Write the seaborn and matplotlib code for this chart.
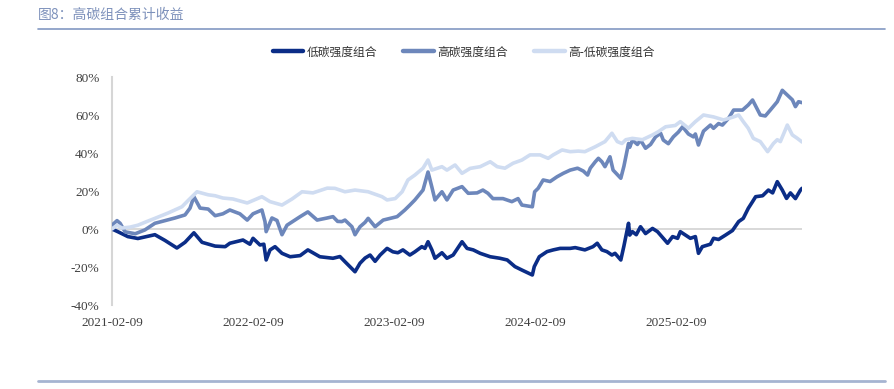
import pandas as pd
import matplotlib
matplotlib.use("Agg")
import matplotlib.pyplot as plt
from matplotlib.lines import Line2D
import seaborn as sns

# ---------- data (% cumulative return) ----------
series_names = ["低碳强度组合", "高碳强度组合", "高-低碳强度组合"]
series_colors = ["#0b2d87", "#6d87bb", "#cfdcf1"]

low_dates = [
    "2021-02-09", "2021-02-25", "2021-03-22", "2021-04-17", "2021-05-31", "2021-06-26",
    "2021-07-27", "2021-08-17", "2021-09-09", "2021-09-30", "2021-11-03", "2021-11-29",
    "2021-12-11", "2022-01-14", "2022-02-01", "2022-02-09", "2022-02-27", "2022-03-09",
    "2022-03-15", "2022-03-25", "2022-04-07", "2022-04-25", "2022-05-16", "2022-06-11",
    "2022-07-01", "2022-08-01", "2022-09-04", "2022-09-22", "2022-10-05", "2022-10-31",
    "2022-11-13", "2022-11-26", "2022-12-09", "2022-12-22", "2023-01-04", "2023-01-22",
    "2023-02-06", "2023-02-19", "2023-03-04", "2023-03-22", "2023-04-04", "2023-04-22",
    "2023-04-30", "2023-05-08", "2023-05-18", "2023-05-26", "2023-06-13", "2023-06-26",
    "2023-07-12", "2023-08-04", "2023-08-17", "2023-09-02", "2023-09-20", "2023-10-16",
    "2023-11-10", "2023-11-29", "2023-12-19", "2024-01-06", "2024-02-02", "2024-02-07",
    "2024-02-20", "2024-03-11", "2024-03-27", "2024-04-14", "2024-05-10", "2024-05-23",
    "2024-06-17", "2024-07-08", "2024-07-19", "2024-07-31", "2024-08-13", "2024-08-26",
    "2024-09-03", "2024-09-18", "2024-09-26", "2024-10-08", "2024-10-11", "2024-10-18",
    "2024-10-28", "2024-11-08", "2024-11-21", "2024-12-09", "2024-12-22", "2025-01-06",
    "2025-01-17", "2025-01-30", "2025-02-12", "2025-02-19", "2025-03-17", "2025-03-30",
    "2025-04-07", "2025-04-17", "2025-05-08", "2025-05-16", "2025-05-29", "2025-06-16",
    "2025-07-04", "2025-07-20", "2025-08-01", "2025-08-14", "2025-08-25", "2025-09-02",
    "2025-09-20", "2025-10-05", "2025-10-16", "2025-10-28", "2025-11-10", "2025-11-21",
    "2025-12-01", "2025-12-14", "2025-12-27", "2025-12-31",
]
low_values = [
    0, -1.5, -4, -5, -3, -6,
    -10, -7, -2, -7, -9, -9.3,
    -7.5, -5.8, -8, -4.9, -8.4, -8,
    -16.3, -11, -9.3, -12.8, -14.6, -14,
    -11, -14.6, -15.4, -14.5, -17.2, -22.5,
    -18, -15.3, -13.7, -17, -13.7, -10.2,
    -12, -12.5, -11, -13.7, -12, -9.3,
    -10.2, -6.7, -11, -15.4, -12.5, -15.4,
    -13.7, -6.7, -10.2, -11, -12.8, -14.6,
    -15.4, -16.3, -19.8, -21.6, -24.2, -19.8,
    -14.6, -11.9, -11, -10.2, -10.2, -9.8,
    -11, -9.3, -7.5, -11, -11.9, -13.7,
    -12.8, -16.3, -9, 3, -3.2, -1.4,
    -3, 1.2, -2.4, 0.3, -1.4, -4.9,
    -7.5, -4, -4.9, -1.4, -4.9, -4,
    -12.8, -9.3, -8, -4.9, -5.5, -3.2,
    -0.8, 3.9, 5.6, 10.9, 14.4, 17,
    17.5, 20.5, 19, 24.9, 20.5, 16.1,
    19, 16, 20.5, 21.4,
]

high_dates = [
    "2021-02-09", "2021-02-22", "2021-03-02", "2021-03-15", "2021-04-10", "2021-05-05",
    "2021-05-31", "2021-06-26", "2021-07-22", "2021-08-17", "2021-08-30", "2021-09-09",
    "2021-09-25", "2021-10-16", "2021-11-03", "2021-11-23", "2021-12-11", "2022-01-06",
    "2022-01-25", "2022-02-09", "2022-03-04", "2022-03-12", "2022-03-15", "2022-03-30",
    "2022-04-12", "2022-04-25", "2022-05-08", "2022-06-11", "2022-07-01", "2022-07-25",
    "2022-08-20", "2022-09-04", "2022-09-16", "2022-09-27", "2022-10-05", "2022-10-23",
    "2022-10-31", "2022-11-13", "2022-11-26", "2022-12-04", "2022-12-22", "2023-01-12",
    "2023-01-30", "2023-02-17", "2023-03-09", "2023-03-22", "2023-04-04", "2023-04-25",
    "2023-05-08", "2023-05-18", "2023-05-26", "2023-06-13", "2023-06-26", "2023-07-12",
    "2023-08-04", "2023-08-20", "2023-09-12", "2023-09-27", "2023-10-10", "2023-10-23",
    "2023-11-18", "2023-12-11", "2023-12-27", "2024-01-06", "2024-02-02", "2024-02-08",
    "2024-02-17", "2024-03-01", "2024-03-19", "2024-04-06", "2024-04-22", "2024-05-10",
    "2024-05-29", "2024-06-13", "2024-06-24", "2024-07-01", "2024-07-14", "2024-07-22",
    "2024-07-31", "2024-08-08", "2024-08-21", "2024-08-29", "2024-09-18", "2024-09-26",
    "2024-10-08", "2024-10-11", "2024-10-18", "2024-10-31", "2024-11-08", "2024-11-21",
    "2024-12-04", "2024-12-17", "2024-12-30", "2025-01-06", "2025-01-19", "2025-02-01",
    "2025-02-14", "2025-02-25", "2025-03-04", "2025-03-12", "2025-03-25", "2025-03-30",
    "2025-04-07", "2025-04-20", "2025-05-08", "2025-05-16", "2025-05-29", "2025-06-08",
    "2025-06-24", "2025-07-07", "2025-07-30", "2025-08-14", "2025-08-25", "2025-09-14",
    "2025-09-27", "2025-10-10", "2025-10-28", "2025-11-10", "2025-11-23", "2025-12-06",
    "2025-12-14", "2025-12-22", "2025-12-31",
]
high_values = [
    2, 4.4, 3, -1.5, -2.5, -0.5,
    3, 4.4, 5.8, 7.4, 11, 17,
    11, 10.5, 7, 8, 10, 8,
    4.7, 8, 10, 3.9, -1.4, 5.8,
    4.5, -3, 2, 6.5, 9, 4.7,
    5.8, 6.5, 4, 3.9, 4.7, 1.2,
    -3, 1.2, 3.5, 5.6, 1.2, 4.7,
    5.6, 6.5, 10, 12.6, 15.3, 20.5,
    30, 22, 15.3, 19.6, 15.3, 20.5,
    22.3, 18.8, 19, 20.5, 18.8, 16,
    16, 14.4, 16, 12.6, 11.7, 19.6,
    21.4, 25.8, 25, 27.5, 29.3, 31,
    32, 30.5, 28.4, 32, 35.4, 37.2,
    35.4, 32.8, 38, 31, 26.7, 33,
    45, 43, 46.8, 44.5, 46.8, 42.5,
    44.5, 48.5, 50.4, 46.8, 44.9, 48.5,
    51, 53.8, 52, 50, 48.5, 50,
    44.2, 51.5, 54.7, 53, 55.5, 54.7,
    58.3, 62.6, 62.6, 65.3, 67.9, 60,
    59.5, 62.6, 67, 73, 70.5, 68,
    64.4, 67, 66.5,
]

spread_dates = [
    "2021-02-09", "2021-02-22", "2021-03-07", "2021-03-28", "2021-04-17", "2021-05-11",
    "2021-05-31", "2021-07-04", "2021-08-09", "2021-08-25", "2021-09-17", "2021-10-16",
    "2021-11-03", "2021-11-23", "2021-12-19", "2022-01-25", "2022-03-04", "2022-03-25",
    "2022-04-25", "2022-05-21", "2022-06-16", "2022-07-14", "2022-08-20", "2022-09-09",
    "2022-10-05", "2022-10-31", "2022-12-04", "2023-01-09", "2023-01-22", "2023-02-12",
    "2023-03-02", "2023-03-17", "2023-04-04", "2023-04-25", "2023-05-08", "2023-05-18",
    "2023-06-13", "2023-06-26", "2023-07-17", "2023-08-04", "2023-08-25", "2023-09-20",
    "2023-10-16", "2023-11-03", "2023-11-23", "2023-12-14", "2024-01-06", "2024-01-27",
    "2024-02-22", "2024-03-14", "2024-03-27", "2024-04-19", "2024-05-10", "2024-05-31",
    "2024-06-17", "2024-07-14", "2024-08-08", "2024-08-26", "2024-09-09", "2024-09-21",
    "2024-10-01", "2024-10-18", "2024-11-13", "2024-12-09", "2024-12-24", "2025-01-12",
    "2025-02-06", "2025-02-19", "2025-03-12", "2025-03-30", "2025-04-20", "2025-05-16",
    "2025-06-11", "2025-07-07", "2025-07-20", "2025-08-01", "2025-08-14", "2025-08-27",
    "2025-09-14", "2025-10-03", "2025-10-18", "2025-10-28", "2025-11-05", "2025-11-23",
    "2025-12-06", "2025-12-19", "2025-12-31",
]
spread_values = [
    0, 2, 0.5, 1, 2, 4,
    5.6, 8.4, 11.7, 15, 19.6, 18,
    17.5, 16.3, 15.8, 13.7, 17, 14.4,
    12.6, 15.8, 19.6, 19, 21.5, 21.4,
    19.6, 20.5, 19.6, 17, 15.3, 16,
    19.6, 25.8, 28.4, 32, 36.3, 31,
    32.8, 31, 33.7, 29.3, 31.9, 32.8,
    35.4, 32.8, 32, 34.6, 36.3, 39,
    39, 37.2, 39, 41.6, 40.7, 41,
    40.7, 43.3, 46, 50.4, 46, 45,
    47, 47.7, 47, 49.5, 51.2, 53.8,
    54.5, 56.5, 53, 56.5, 60, 59,
    57.4, 59, 60, 56.5, 53, 47.7,
    46, 40.7, 45, 47, 46, 54.7,
    49.5, 47.7, 45.8,
]

x_tick_labels = ["2021-02-09", "2022-02-09", "2023-02-09", "2024-02-09", "2025-02-09"]
y_ticks = [-40, -20, 0, 20, 40, 60, 80]

df = pd.concat([
    pd.DataFrame({"date": pd.to_datetime(low_dates), "value": low_values, "series": series_names[0]}),
    pd.DataFrame({"date": pd.to_datetime(high_dates), "value": high_values, "series": series_names[1]}),
    pd.DataFrame({"date": pd.to_datetime(spread_dates), "value": spread_values, "series": series_names[2]}),
], ignore_index=True)

# ---------- figure ----------
sns.set_theme(style="white")
plt.rcParams["font.family"] = ["Liberation Serif", "Noto Sans CJK SC", "DejaVu Sans"]
cjk = ["Noto Sans CJK SC", "DejaVu Sans"]

fig = plt.figure(figsize=(8.95, 3.89), dpi=100)
ax = fig.add_axes([112 / 895, 1 - 305 / 389, (802 - 112) / 895, (305 - 77) / 389])

ax.axhline(0, color="#d6d6d6", lw=1.3, zorder=1)
sns.lineplot(data=df, x="date", y="value", hue="series", hue_order=series_names,
             palette=series_colors, linewidth=2.6, estimator=None, ax=ax, zorder=3)

ax.set_xlim(pd.Timestamp("2021-02-09"), pd.Timestamp("2025-12-31"))
ax.set_ylim(-40, 80)
ax.set_xticks(pd.to_datetime(x_tick_labels))
ax.set_xticklabels(x_tick_labels)
ax.set_yticks(y_ticks)
ax.set_yticklabels([f"{v}%" for v in y_ticks])
ax.set_xlabel("")
ax.set_ylabel("")
ax.tick_params(axis="both", length=0, labelsize=9.5, colors="#404040")
ax.tick_params(axis="y", pad=9)
ax.tick_params(axis="x", pad=9)
for side in ["top", "right", "bottom"]:
    ax.spines[side].set_visible(False)
ax.spines["left"].set_color("#d6d6d6")
ax.spines["left"].set_linewidth(1.5)

# legend
ax.get_legend().remove()
handles = [Line2D([], [], color=c, lw=3.2) for c in series_colors]
fig.legend(handles, series_names, loc="center", bbox_to_anchor=(0.518, 1 - 52 / 389),
           ncol=3, frameon=False, handlelength=2.6, handletextpad=0.3, columnspacing=2.2,
           prop={"family": cjk, "size": 8.5}, labelcolor="#333333")

# title and header/footer rules
fig.text(38 / 895, 1 - 15 / 389, "图8：高碳组合累计收益", ha="left", va="center",
         fontsize=10, color="#7d91bb", family=cjk)
fig.add_artist(Line2D([38 / 895, 885 / 895], [1 - 28.5 / 389] * 2, color="#8398c2", lw=1.2,
                      transform=fig.transFigure))
fig.add_artist(Line2D([38 / 895, 885 / 895], [1 - 381 / 389] * 2, color="#a6b4d1", lw=2.0,
                      transform=fig.transFigure))

fig.savefig("out.png", dpi=100)
